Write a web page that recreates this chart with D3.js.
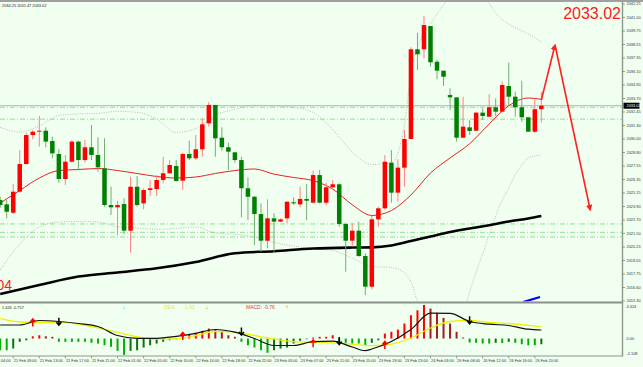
<!DOCTYPE html>
<html><head><meta charset="utf-8">
<script src="https://cdn.jsdelivr.net/npm/d3@7"></script>
<style>html,body{margin:0;padding:0;background:#F0FFF0;} svg{display:block;}</style>
</head><body><svg id="c" width="643" height="367"></svg>
<script>
// ---------- DATA ----------
const opens  = [2024.46,2024.07,2023.31,2025.22,2027.73,2030.36,2030.66,2030.75,2029.82,2028.64,2026.37,2027.94,2029.76,2028.09,2029.25,2028.55,2027.34,2024.01,2023.80,2024.10,2021.68,2025.67,2024.16,2025.37,2025.46,2026.28,2026.89,2027.55,2026.22,2028.64,2028.25,2029.07,2031.42,2033.09,2030.12,2029.25,2028.79,2028.09,2025.53,2024.76,2023.19,2020.77,2022.80,2022.50,2022.80,2024.26,2024.07,2024.56,2024.22,2026.73,2024.22,2025.62,2025.89,2022.29,2020.77,2021.68,2019.38,2016.60,2022.71,2023.71,2027.85,2025.13,2027.40,2030.00,2038.14,2038.14,2040.25,2037.01,2036.20,2033.99,2033.78,2030.12,2031.06,2030.75,2032.39,2032.02,2032.88,2032.48,2034.81,2033.84,2032.88,2031.97,2030.66,2032.70];
const highs  = [2024.74,2024.46,2025.92,2029.00,2030.57,2030.82,2032.09,2031.06,2030.21,2029.07,2028.55,2029.91,2029.85,2029.91,2031.27,2030.15,2030.06,2025.67,2024.40,2024.62,2026.58,2026.64,2025.53,2026.28,2026.73,2028.39,2028.09,2028.09,2028.76,2029.85,2030.36,2031.88,2033.36,2033.09,2031.06,2029.66,2028.85,2028.39,2026.52,2024.83,2024.16,2024.53,2023.26,2022.80,2024.31,2024.71,2025.67,2025.92,2027.12,2027.19,2026.03,2026.28,2025.98,2022.40,2022.35,2022.50,2019.63,2023.01,2023.86,2028.55,2029.00,2028.16,2030.82,2038.32,2039.65,2041.16,2040.25,2037.17,2036.20,2034.60,2033.78,2033.84,2031.72,2032.48,2032.79,2034.08,2033.69,2035.20,2036.92,2034.29,2035.29,2031.97,2033.60,2034.29];
const lows   = [2023.74,2022.80,2023.19,2025.15,2027.68,2029.97,2029.30,2029.25,2028.25,2026.03,2025.83,2027.85,2027.25,2027.85,2028.09,2027.03,2023.86,2023.10,2021.29,2021.38,2019.68,2023.86,2023.62,2024.83,2024.83,2025.98,2026.89,2026.13,2025.37,2028.09,2028.09,2028.39,2031.12,2028.39,2028.94,2027.19,2027.85,2022.89,2022.65,2020.38,2019.77,2020.08,2019.77,2022.50,2022.35,2024.01,2023.80,2022.65,2024.16,2024.16,2024.01,2025.53,2022.04,2017.96,2020.23,2019.32,2015.84,2016.36,2022.04,2023.62,2024.22,2024.31,2025.67,2030.00,2036.26,2037.32,2036.56,2035.42,2034.81,2032.63,2029.76,2030.12,2030.36,2030.75,2031.72,2032.02,2032.09,2032.48,2033.09,2032.02,2031.57,2030.66,2030.52,2031.48];
const closes = [2024.01,2023.40,2025.22,2027.73,2030.36,2030.66,2030.75,2029.76,2028.70,2026.37,2027.94,2029.76,2028.09,2029.25,2028.55,2027.43,2024.01,2023.80,2024.01,2021.68,2025.67,2024.01,2025.37,2025.53,2026.28,2026.89,2027.64,2026.19,2028.64,2028.25,2029.07,2031.33,2033.09,2030.06,2029.25,2028.85,2028.09,2025.53,2024.76,2023.19,2020.77,2022.80,2022.50,2022.71,2024.31,2024.16,2024.56,2024.40,2026.73,2024.22,2025.62,2025.89,2022.29,2020.77,2021.68,2019.38,2016.60,2022.71,2023.71,2027.94,2025.13,2027.40,2030.00,2038.14,2037.69,2040.34,2036.96,2036.20,2035.65,2033.78,2030.12,2031.12,2030.73,2032.39,2032.09,2032.88,2032.48,2034.90,2033.84,2032.88,2031.97,2030.66,2032.70,2033.02];

const priceTickLabels = ["2042.25","2041.00","2039.75","2038.55","2037.35","2036.10","2034.90","2033.70","2032.45","2031.30","2030.00","2028.80","2027.55","2026.35","2025.15","2023.90","2022.70","2021.50","2020.25","2019.05","2017.75","2016.60","2015.30"];
const priceTickValues = [2042.25,2041.025,2039.80,2038.575,2037.35,2036.125,2034.90,2033.675,2032.45,2031.225,2030.00,2028.775,2027.55,2026.325,2025.10,2023.875,2022.65,2021.425,2020.20,2018.975,2017.75,2016.525,2015.30];

const timeTickBars   = [-2,2,6,10,14,18,22,26,30,34,38,42,46,50,54,58,62,66,70,74,78,82];
const timeTickLabels = ["21 Feb 04:00","21 Feb 09:00","21 Feb 13:00","21 Feb 17:00","21 Feb 21:00","22 Feb 01:00","22 Feb 05:00","22 Feb 10:00","22 Feb 14:00","22 Feb 18:00","22 Feb 22:00","23 Feb 03:00","23 Feb 07:00","23 Feb 11:00","23 Feb 15:00","23 Feb 19:00","23 Feb 23:00","24 Feb 03:00","26 Feb 08:00","26 Feb 12:00","26 Feb 16:00","26 Feb 20:00"];

const maBars   = [0,3,6,9,12,15,18,21,24,27,30,33,36,39,42,45,48,51,54,57,60,63,66,69,72,75,78,81,83];
const maValues = [2024.19,2025.33,2026.46,2027.14,2027.23,2027.32,2027.14,2026.87,2026.60,2026.46,2026.55,2026.87,2027.14,2027.28,2026.81,2026.51,2026.22,2025.46,2024.03,2023.06,2023.51,2024.92,2026.91,2028.28,2029.57,2031.36,2033.02,2033.72,2033.60];

const ma200Bars   = [0,6,12,18,24,30,36,42,48,54,57,60,63,66,69,72,75,78,81,83];
const ma200Values = [2015.93,2016.75,2017.52,2017.89,2018.27,2018.84,2019.63,2019.82,2020.06,2020.15,2020.17,2020.34,2020.74,2021.15,2021.56,2021.88,2022.18,2022.51,2022.79,2023.01];

const bbUpperBars   = [0,3,6,9,12,15,18,21,24,27,30,33,36,39,42,45,48,51,54,57,60,62,63,64,65,66,67,68,70,72,74,75,76,78,81,83];
const bbUpperValues = [2031.06,2030.63,2031.18,2032.13,2032.27,2032.33,2032.51,2032.42,2031.81,2030.59,2030.95,2032.18,2032.68,2033.06,2033.01,2032.86,2032.40,2030.86,2028.82,2027.69,2027.82,2031.27,2036.08,2038.26,2039.62,2040.44,2041.34,2042.16,2043.34,2043.70,2043.16,2042.34,2041.43,2040.44,2039.53,2038.80];
const bbLowerBars   = [0,3,6,9,12,15,18,21,24,27,30,33,36,39,42,45,48,51,54,57,60,62,63,64,66,69,71,72,73,74,75,76,77,78,79,80,81,83];
const bbLowerValues = [2018.11,2020.47,2022.01,2022.47,2022.51,2022.47,2022.04,2021.92,2021.81,2021.88,2022.01,2021.47,2021.35,2021.11,2020.61,2020.29,2020.06,2019.88,2019.20,2018.43,2018.34,2017.84,2017.07,2015.21,2012.67,2011.76,2014.03,2016.12,2017.93,2019.56,2021.29,2023.01,2024.46,2025.55,2026.73,2027.64,2028.28,2028.55];

const levelPrices = [2032.88,2031.80,2022.29,2021.53,2021.11];
const currentPrice = 2033.02;

const forecastBars   = [83,85.1,90.5];
const forecastPrices = [2033.54,2038.53,2023.56];
const blueBars   = [80.2,82.8];
const bluePrices = [2015.20,2015.66];

const macdHist = [-1.50,-1.50,-1.28,-0.42,-0.22,0.29,0.42,0.29,0.22,-0.42,-0.42,-0.42,-0.42,-0.42,-0.55,-0.64,-0.86,-1.06,-1.58,-2.10,-1.58,-1.50,-1.15,-0.86,-0.64,-0.42,-0.22,-0.09,0.42,0.55,0.73,0.99,1.28,1.09,0.86,0.42,0.22,-0.42,-0.86,-1.15,-1.50,-1.83,-1.50,-1.28,-1.15,-0.64,-0.29,-0.09,0.13,0.22,0.22,0.42,-0.42,-0.55,-0.64,-0.64,-0.86,-0.55,-0.22,0.64,0.86,1.15,1.92,2.98,3.62,4.30,3.84,3.29,2.65,1.92,0.86,0.13,-0.51,-0.55,-0.64,-0.64,-0.55,-0.58,-0.42,-0.55,-0.73,-0.86,-0.86,-0.73];
const difBars   = [0,3,6,9,12,15,18,21,24,27,30,33,36,39,42,45,48,51,54,56,57,60,63,66,69,72,75,78,81,83];
const difValues = [1.734,1.734,2.310,2.182,1.926,1.542,0.389,0.031,0.031,0.287,0.671,1.158,0.812,0.005,-0.891,-0.891,-0.405,-0.341,-1.084,-1.557,-1.340,-0.379,1.158,3.245,3.233,2.182,1.837,1.670,1.196,1.094];
const deaBars   = [0,3,6,9,12,15,18,21,24,27,30,33,36,39,42,45,48,51,54,57,60,63,66,69,72,75,78,81,83];
const deaValues = [2.592,2.118,2.054,2.093,1.862,1.375,0.812,0.236,-0.085,-0.059,0.389,0.902,0.863,0.389,-0.059,-0.405,-0.482,-0.546,-0.738,-0.917,-0.725,0.069,1.350,2.182,2.336,2.054,1.926,1.696,1.516];
const crossUpBars = [5,28,48,59],   crossUpValues = [2.05,0.33,-0.61,-0.83];
const crossDnBars = [9,37,52,72],   crossDnValues = [2.16,0.90,-0.32,2.34];
const macdTickLabels = ["4.424","0.00","-2.108"];
const macdTickValues = [4.424,0,-2.108];

// ---------- LAYOUT ----------
const W = 643, H = 367, plotR = 622.5;
const svg = d3.select("#c");
const font = "'Liberation Sans', Arial, sans-serif";
svg.append("rect").attr("width",W).attr("height",H).attr("fill","#F0FFF0");

const x = d3.scaleLinear().domain([0,83]).range([0.18,541.34]);
const y = d3.scaleLinear().domain([2015.30,2042.25]).range([301,4]);
const ym = d3.scaleLinear().domain([-2.108,4.424]).range([355,304]);

const defs = svg.append("defs");
defs.append("clipPath").attr("id","cm").append("rect").attr("x",0).attr("y",2).attr("width",plotR).attr("height",299.5);
defs.append("clipPath").attr("id","cd").append("rect").attr("x",0).attr("y",303.5).attr("width",plotR).attr("height",52);
defs.append("marker").attr("id","ah").attr("viewBox","0 0 10 10").attr("refX",8).attr("refY",5)
  .attr("markerWidth",4).attr("markerHeight",4).attr("orient","auto")
  .append("path").attr("d","M0,0 L10,5 L0,10 Z").attr("fill","#ff2020");

const main = svg.append("g").attr("clip-path","url(#cm)");

// level lines
main.selectAll(".lvl").data(levelPrices).join("line")
  .attr("x1",0).attr("x2",plotR).attr("y1",d=>y(d)).attr("y2",d=>y(d))
  .attr("stroke","#90e090").attr("stroke-width",1).attr("stroke-dasharray","5,2,1,2");
main.append("line").attr("x1",0).attr("x2",plotR).attr("y1",y(currentPrice)).attr("y2",y(currentPrice))
  .attr("stroke","#b0b8b0").attr("stroke-width",1);

// bands
const pts = (bs,vs)=>bs.map((b,i)=>[b,vs[i]]);
const lineP = d3.line().x(d=>x(d[0])).y(d=>y(d[1])).curve(d3.curveMonotoneX);
[pts(bbUpperBars,bbUpperValues), pts(bbLowerBars,bbLowerValues)].forEach(p=>{
  main.append("path").attr("d",lineP(p)).attr("fill","none").attr("stroke","#a8b0a8")
    .attr("stroke-width",0.8).attr("stroke-dasharray","1,1.4");
});
// MA200 black
main.append("path").attr("d",lineP(pts(ma200Bars,ma200Values))).attr("fill","none")
  .attr("stroke","#000").attr("stroke-width",2.6);
// MA red
main.append("path").attr("d",lineP(pts(maBars,maValues))).attr("fill","none")
  .attr("stroke","#e52222").attr("stroke-width",1);

// candles
const idx = d3.range(opens.length);
const up = i => closes[i] >= opens[i];
main.selectAll(".wick").data(idx).join("line")
  .attr("x1",i=>x(i)).attr("x2",i=>x(i)).attr("y1",i=>y(highs[i])).attr("y2",i=>y(lows[i]))
  .attr("stroke",i=>up(i)?"#ff8080":"#70b070").attr("stroke-width",1);
main.selectAll(".body").data(idx).join("rect")
  .attr("x",i=>x(i)-2.25).attr("width",4.5)
  .attr("y",i=>y(Math.max(opens[i],closes[i])))
  .attr("height",i=>Math.max(1,Math.abs(y(opens[i])-y(closes[i]))))
  .attr("fill",i=>up(i)?"#ff0000":"#008000");

// blue trend piece
main.append("path").attr("d",d3.line().x(d=>x(d[0])).y(d=>y(d[1]))(pts(blueBars,bluePrices)))
  .attr("stroke","#0000ff").attr("stroke-width",2.2).attr("fill","none");

// forecast arrow
const fp = pts(forecastBars,forecastPrices);
const lin = d3.line().x(d=>x(d[0])).y(d=>y(d[1]));
svg.append("path").attr("d",lin([fp[0],fp[1]])).attr("stroke","#ff2020").attr("stroke-width",1.6)
  .attr("fill","none").attr("marker-end","url(#ah)");
svg.append("path").attr("d",lin([fp[1],fp[2]])).attr("stroke","#ff2020").attr("stroke-width",1.6)
  .attr("fill","none").attr("marker-end","url(#ah)");

// big price labels
svg.append("text").attr("x",621).attr("y",18.5).attr("text-anchor","end")
  .attr("font-family",font).attr("font-size",16).attr("fill","#ff1a1a").text("2033.02");
svg.append("text").attr("x",12).attr("y",290).attr("text-anchor","end")
  .attr("font-family",font).attr("font-size",14).attr("fill","#ff1a1a").text("2016.04");

// header
svg.append("rect").attr("x",0).attr("y",0).attr("width",W).attr("height",2).attr("fill","#a0a0a0");
svg.append("text").attr("x",2).attr("y",6.5).attr("font-family",font).attr("font-size",3.9)
  .attr("fill","#222").text("2034.25 2031.47 2033.02");

// ---------- MACD ----------
const md = svg.append("g").attr("clip-path","url(#cd)");
md.selectAll(".hb").data(idx).join("rect")
  .attr("x",i=>x(i)-1).attr("width",2)
  .attr("y",i=>Math.min(ym(0),ym(macdHist[i])))
  .attr("height",i=>Math.abs(ym(macdHist[i])-ym(0)))
  .attr("fill",i=>{
    const v=macdHist[i], p=i>0?macdHist[i-1]:v;
    if(v>=0) return v>=p?"#ff0000":"#a02020";
    return v<=p?"#00b000":"#107010";
  });
const lineM = d3.line().x(d=>x(d[0])).y(d=>ym(d[1])).curve(d3.curveMonotoneX);
md.append("path").attr("d",lineM(pts(deaBars,deaValues))).attr("fill","none").attr("stroke","#f0f000").attr("stroke-width",1.3);
md.append("path").attr("d",lineM(pts(difBars,difValues))).attr("fill","none").attr("stroke","#111").attr("stroke-width",1.2);
// cross arrows
crossUpBars.forEach((b,i)=>{
  const cx=x(b), cy=ym(crossUpValues[i]);
  md.append("path").attr("d",`M${cx},${cy+4} L${cx},${cy-3} M${cx-2.5},${cy-0.5} L${cx},${cy-3.5} L${cx+2.5},${cy-0.5}`)
    .attr("stroke","#ff0000").attr("stroke-width",1.5).attr("fill","none");
});
crossDnBars.forEach((b,i)=>{
  const cx=x(b), cy=ym(crossDnValues[i]);
  md.append("path").attr("d",`M${cx},${cy-4} L${cx},${cy+3} M${cx-2.5},${cy+0.5} L${cx},${cy+3.5} L${cx+2.5},${cy+0.5}`)
    .attr("stroke","#000").attr("stroke-width",1.5).attr("fill","none");
});
// panel texts
svg.append("text").attr("x",2).attr("y",308.5).attr("font-family",font).attr("font-size",3.9).attr("fill","#222").text("1.426 -0.757");
svg.append("text").attr("x",164).attr("y",308.5).attr("font-family",font).attr("font-size",5).attr("fill","#e8e830").text("DEA:");
svg.append("text").attr("x",185).attr("y",308.5).attr("font-family",font).attr("font-size",5).attr("fill","#e8e830").text("1.43");
svg.append("text").attr("x",246).attr("y",308.5).attr("font-family",font).attr("font-size",5).attr("fill","#e04040").text("MACD:   -0.76");
[[19,"#40c040","↓"],[31.7,"#40c040","↓"],[44,"#ff4040","↑"]].forEach(d=>{
  svg.append("text").attr("x",x(d[0])).attr("y",309).attr("text-anchor","middle").attr("font-family",font)
    .attr("font-size",6).attr("fill",d[1]).text(d[2]);
});

// ---------- AXES / FRAME ----------
svg.append("rect").attr("x",0).attr("y",301.5).attr("width",plotR).attr("height",2).attr("fill","#8c908c");
svg.append("line").attr("x1",0).attr("x2",plotR).attr("y1",356).attr("y2",356).attr("stroke","#8a9a8a").attr("stroke-width",1.2);
svg.append("line").attr("x1",plotR).attr("x2",plotR).attr("y1",2).attr("y2",356.5).attr("stroke","#8a9a8a").attr("stroke-width",1.4);

const ax = svg.append("g");
const axFont = 3.9;
priceTickValues.forEach((v,i)=>{
  ax.append("line").attr("x1",plotR).attr("x2",plotR+2.5).attr("y1",y(v)).attr("y2",y(v)).attr("stroke","#666").attr("stroke-width",0.6);
  ax.append("text").attr("x",626.5).attr("y",y(v)+1.4).attr("font-family",font).attr("font-size",axFont).attr("fill","#333").text(priceTickLabels[i]);
});
ax.append("rect").attr("x",623.5).attr("y",y(currentPrice)-3).attr("width",16).attr("height",6).attr("fill","#000");
ax.append("text").attr("x",626.5).attr("y",y(currentPrice)+1.4).attr("font-family",font).attr("font-size",axFont).attr("fill","#fff").text("2033.02");
macdTickValues.forEach((v,i)=>{
  const yy = i===0? ym(v)+2.5 : (i===2? ym(v)-1.5 : ym(v));
  ax.append("text").attr("x",626.5).attr("y",yy+1.4).attr("font-family",font).attr("font-size",axFont).attr("fill","#333").text(macdTickLabels[i]);
});
timeTickBars.forEach((b,i)=>{
  ax.append("line").attr("x1",x(b)).attr("x2",x(b)).attr("y1",356).attr("y2",358.5).attr("stroke","#666").attr("stroke-width",0.6);
  ax.append("text").attr("x",x(b)+0.5).attr("y",361.5).attr("font-family",font).attr("font-size",axFont).attr("fill","#333").text(timeTickLabels[i]);
});
</script></body></html>
